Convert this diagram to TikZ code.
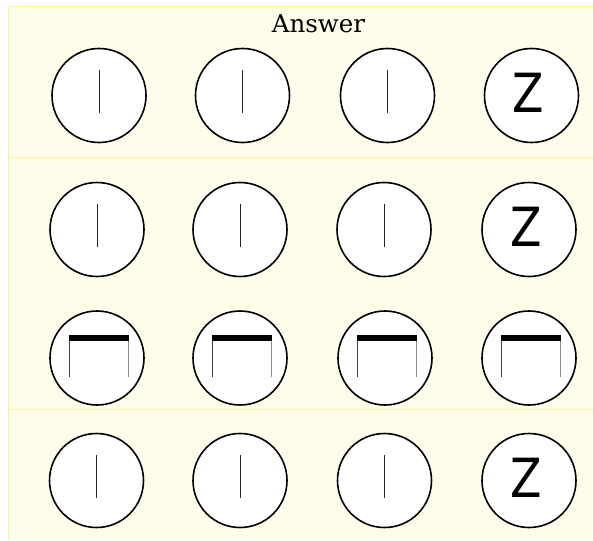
\documentclass[tikz,border=0pt]{standalone}
\usepackage{fontspec}
\usepackage{graphicx}
\newfontfamily\titlefont{DejaVu Serif}
\newfontfamily\zfont{DejaVu Sans}
\definecolor{panelfill}{HTML}{FEFCEA}
\definecolor{panelline}{HTML}{FFF099}
\tikzset{
  dial/.style={circle, draw=black, line width=1.6pt, fill=white, minimum size=94pt, inner sep=0pt},
  tick/.style={draw=black!85, line width=0.9pt},
  zlabel/.style={font=\zfont\fontsize{54}{54}\selectfont, inner sep=0pt},
  bar/.style={fill=black, draw=none},
  legdark/.style={draw=black!75, line width=0.9pt},
  leglight/.style={draw=black!45, line width=1pt},
  frame/.style={draw=panelline, line width=1pt}
}
\begin{document}
\begin{tikzpicture}[x=1pt,y=-1pt]
\useasboundingbox (0,0) rectangle (593,540);
% panels
\fill[panelfill] (8,7) rectangle (593,540);
\draw[frame] (593,7) -- (8,7) -- (8,540);
\draw[frame] (8,157.5) -- (593,157.5);
\draw[frame] (8,409) -- (593,409);
\node[font=\titlefont\fontsize{24.5}{24.5}\selectfont, anchor=base, inner sep=0pt] (title) at (318.5,32.5) {Answer};
% row 1
\node[dial] (a1) at (99,95.5) {};
\node[dial] (a2) at (242.5,95.5) {};
\node[dial] (a3) at (387.5,95.5) {};
\node[dial] (a4) at (531.5,95.5) {};
% row 2
\node[dial] (b1) at (97,229.5) {};
\node[dial] (b2) at (240,229.5) {};
\node[dial] (b3) at (384,229.5) {};
\node[dial] (b4) at (529,229.5) {};
% row 3
\node[dial] (c1) at (97,358) {};
\node[dial] (c2) at (240,358) {};
\node[dial] (c3) at (385,358) {};
\node[dial] (c4) at (529,358) {};
% row 4
\node[dial] (d1) at (96.5,480.5) {};
\node[dial] (d2) at (240,480.5) {};
\node[dial] (d3) at (384.5,480.5) {};
\node[dial] (d4) at (529,480.5) {};
% ticks
\foreach \n in {a1,a2,a3,b1,b2,b3,d1,d2,d3}{
  \draw[tick] ([yshift=25.5pt]\n.center) -- ([yshift=-17.5pt]\n.center);
}
% Z labels
\foreach \n in {a4,b4,d4}{
  \node[zlabel] (z\n) at ([xshift=-3pt,yshift=2.5pt]\n.center) {\scalebox{0.85}[1]{Z}};
}
% brackets
\foreach \n in {c1,c2,c3,c4}{
  \fill[bar] ([xshift=-28.5pt,yshift=23pt]\n.center) rectangle ([xshift=31.5pt,yshift=17pt]\n.center);
  \draw[legdark] ([xshift=-28pt,yshift=17pt]\n.center) -- ([xshift=-28pt,yshift=-19pt]\n.center);
  \draw[leglight] ([xshift=31pt,yshift=17pt]\n.center) -- ([xshift=31pt,yshift=-19pt]\n.center);
}
\end{tikzpicture}
\end{document}
